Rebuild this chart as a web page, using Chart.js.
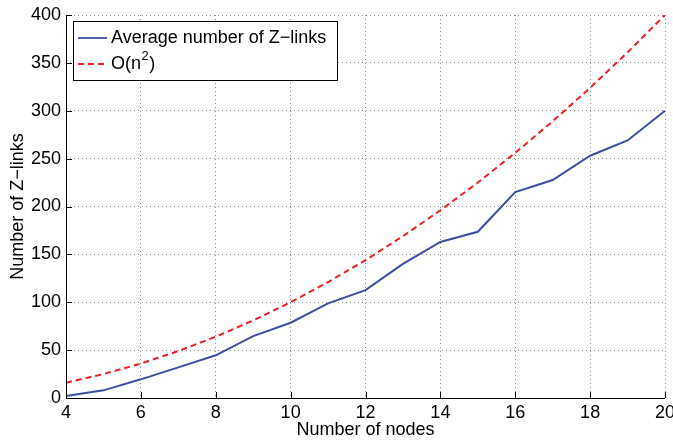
<!DOCTYPE html>
<html><head><meta charset="utf-8">
<script src="https://cdn.jsdelivr.net/npm/chart.js@4.4.0/dist/chart.umd.min.js"></script>
<style>html,body{margin:0;padding:0;background:#fff;}#wrap{width:673px;height:441px;}</style>
</head><body><div id="wrap"><canvas id="c" width="673" height="441"></canvas></div>
<script>
const nodes = [4,5,6,7,8,9,10,11,12,13,14,15,16,17,18,19,20];
const avgZlinks = [2,8,19.5,32,44.6,64.7,78.6,98.8,112.7,140,163,173.6,215,227.6,253,269,300];
const quadRef = [16,25,36,49,64,81,100,121,144,169,196,225,256,289,324,361,400];
const xTicks = [4,6,8,10,12,14,16,18,20];
const yTicks = [0,50,100,150,200,250,300,350,400];
const seriesLabels = ['Average number of Z\u2212links','O(n\u00b2)'];

const FONT = '"Liberation Sans", Arial, sans-serif';
const BLUE = '#3c4fa3';
const RED = '#ee2024';

const legendPlugin = {
  id: 'boxLegend',
  afterDraw(chart){
    const ctx = chart.ctx;
    const ca = chart.chartArea;
    const x0 = ca.left + 7, y0 = ca.top + 6, w = 264, h = 59;
    ctx.save();
    ctx.fillStyle = '#fff';
    ctx.fillRect(x0,y0,w,h);
    ctx.strokeStyle = '#000'; ctx.lineWidth = 1;
    ctx.strokeRect(x0+0.5,y0+0.5,w,h);
    ctx.font = '18px ' + FONT;
    ctx.textBaseline = 'middle';
    const rows = [y0+17, y0+43];
    ctx.strokeStyle = BLUE; ctx.lineWidth = 1.8; ctx.setLineDash([]);
    ctx.beginPath(); ctx.moveTo(x0+5, rows[0]); ctx.lineTo(x0+34, rows[0]); ctx.stroke();
    ctx.fillStyle = '#000';
    ctx.fillText(chart.data.datasets[0].label, x0+38, rows[0]);
    ctx.strokeStyle = RED; ctx.setLineDash([6,4]);
    ctx.beginPath(); ctx.moveTo(x0+5, rows[1]); ctx.lineTo(x0+34, rows[1]); ctx.stroke();
    ctx.setLineDash([]);
    let tx = x0+38;
    ctx.fillText('O(n', tx, rows[1]); tx += ctx.measureText('O(n').width;
    ctx.font = '13px ' + FONT;
    ctx.fillText('2', tx+0.5, rows[1]-8); tx += ctx.measureText('2').width + 1;
    ctx.font = '18px ' + FONT;
    ctx.fillText(')', tx, rows[1]);
    ctx.restore();
  }
};

const axesPlugin = {
  id: 'inwardTicks',
  afterDatasetsDraw(chart){
    const ctx = chart.ctx, ca = chart.chartArea;
    const xs = chart.scales.x, ys = chart.scales.y;
    ctx.save();
    ctx.strokeStyle = '#000'; ctx.lineWidth = 1;
    ctx.beginPath();
    ctx.moveTo(ca.left+0.5, ca.top); ctx.lineTo(ca.left+0.5, ca.bottom+0.5);
    ctx.lineTo(ca.right, ca.bottom+0.5);
    for (const v of xTicks){ const px = Math.round(xs.getPixelForValue(v))+0.5; ctx.moveTo(px, ca.bottom); ctx.lineTo(px, ca.bottom-6); }
    for (const v of yTicks){ const py = Math.round(ys.getPixelForValue(v))+0.5; ctx.moveTo(ca.left, py); ctx.lineTo(ca.left+6, py); }
    ctx.stroke();
    ctx.restore();
  }
};

new Chart(document.getElementById('c'), {
  type: 'line',
  data: {
    labels: nodes,
    datasets: [
      { label: seriesLabels[0], data: nodes.map((n,i)=>({x:n,y:avgZlinks[i]})), borderColor: BLUE, borderWidth: 2, pointRadius: 0, tension: 0, fill: false },
      { label: seriesLabels[1], data: nodes.map((n,i)=>({x:n,y:quadRef[i]})), borderColor: RED, borderWidth: 2, borderDash: [6,4], pointRadius: 0, tension: 0, fill: false }
    ]
  },
  options: {
    responsive: false, animation: false, devicePixelRatio: 1,
    layout: { padding: { top: 15, right: 8, left: 0, bottom: 0 } },
    plugins: { legend: { display: false }, tooltip: { enabled: false } },
    scales: {
      x: {
        type: 'linear', min: 4, max: 20,
        afterBuildTicks(s){ s.ticks = xTicks.map(v=>({value:v})); },
        afterFit(s){ s.height = 43; s.paddingRight = 0; s.paddingLeft = 0; },
        border: { display: false, dash: [1,3] },
        grid: { color: '#8a8a8a', lineWidth: 1, drawTicks: false },
        ticks: { color: '#000', font: { family: FONT, size: 18 }, padding: 4, maxRotation: 0 },
        title: { display: true, text: 'Number of nodes', color: '#000', font: { family: FONT, size: 18 }, padding: { top: -3, bottom: 0 } }
      },
      y: {
        type: 'linear', min: 0, max: 400,
        afterBuildTicks(s){ s.ticks = yTicks.map(v=>({value:v})); },
        afterFit(s){ s.width = 66; s.paddingTop = 0; s.paddingBottom = 0; },
        border: { display: false, dash: [1,3] },
        grid: { color: '#8a8a8a', lineWidth: 1, drawTicks: false },
        ticks: { color: '#000', font: { family: FONT, size: 18 }, padding: 5 },
        title: { display: true, text: 'Number of Z\u2212links', color: '#000', font: { family: FONT, size: 18 }, padding: { top: 7, bottom: 0 } }
      }
    }
  },
  plugins: [axesPlugin, legendPlugin]
});
</script></body></html>
